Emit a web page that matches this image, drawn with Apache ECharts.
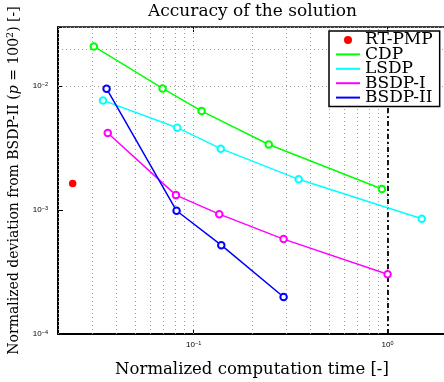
<!DOCTYPE html>
<html>
<head>
<meta charset="utf-8">
<script src="https://cdn.jsdelivr.net/npm/echarts@6/dist/echarts.min.js"></script>
<style>html,body{margin:0;padding:0;background:#fff;}#c{width:444px;height:382px;}</style>
</head>
<body>
<div id="c"></div>
<script>
// ---- data ----
const seriesNames = ['RT-PMP', 'CDP', 'LSDP', 'BSDP-I', 'BSDP-II'];
const rtpmpX = [0.0238];
const rtpmpY = [0.00164];
const cdpX = [0.0306, 0.0692, 0.110, 0.244, 0.935];
const cdpY = [0.0209, 0.00958, 0.00629, 0.00338, 0.00148];
const lsdpX = [0.0341, 0.0824, 0.138, 0.348, 1.50];
const lsdpY = [0.00767, 0.00462, 0.00313, 0.00177, 0.00085];
const bsdp1X = [0.0361, 0.0811, 0.1356, 0.291, 1.0];
const bsdp1Y = [0.00419, 0.00132, 0.000927, 0.000583, 0.000303];
const bsdp2X = [0.0356, 0.0817, 0.1389, 0.291];
const bsdp2Y = [0.00953, 0.000987, 0.000521, 0.000199];
const refTime = [1];
// grid (tick) positions
const xGrid = [0.02, 0.03, 0.04, 0.05, 0.06, 0.07, 0.08, 0.09,
               0.1, 0.2, 0.3, 0.4, 0.5, 0.6, 0.7, 0.8, 0.9, 1, 2];
const yGrid = [0.0001, 0.0002, 0.0003, 0.0004, 0.0005, 0.0006, 0.0007, 0.0008, 0.0009,
               0.001, 0.002, 0.003, 0.004, 0.005, 0.006, 0.007, 0.008, 0.009,
               0.01, 0.02, 0.03];
const xRange = [0.02, 2];
const yRange = [0.0001, 0.03];

const zip = (xs, ys) => xs.map((x, i) => [x, ys[i]]);
const serif = 'DejaVu Serif';
const sans = 'Liberation Sans';

function powLabel(v) {
  const l = Math.log10(v);
  if (Math.abs(l - Math.round(l)) > 1e-6) return '';
  const e = Math.round(l);
  return '{b|10}{e|' + (e < 0 ? '\u2212' + (-e) : e) + '}';
}
const tickRich = {
  b: {fontFamily: sans, fontSize: 8, color: '#000', lineHeight: 10},
  e: {fontFamily: sans, fontSize: 5.5, color: '#000', verticalAlign: 'top', lineHeight: 6}
};

const gridLine = {type: [1, 3], color: '#a0a0a0', width: 1};

function lineSeries(name, xs, ys, color) {
  return {
    name: name, type: 'line', data: zip(xs, ys),
    symbol: 'emptyCircle', symbolSize: 6.5,
    lineStyle: {color: color, width: 1.5},
    itemStyle: {color: color, borderColor: color, borderWidth: 1.5},
    z: 3, animation: false
  };
}

const chart = echarts.init(document.getElementById('c'), null, {renderer: 'canvas'});
chart.setOption({
  animation: false,
  backgroundColor: '#fff',
  title: {
    text: 'Accuracy of the solution', left: 148, top: 3, padding: 0,
    textStyle: {fontFamily: serif, fontSize: 17, fontWeight: 'normal', color: '#000'}
  },
  grid: {left: 58, right: -2, top: 27, bottom: 48, containLabel: false, outerBoundsMode: 'none'},
  legend: {
    orient: 'vertical', left: 329, top: 31, padding: [0.5, 7, 0.5, 6],
    itemWidth: 24, itemHeight: 8, itemGap: -2.6,
    backgroundColor: '#fff', borderColor: '#000', borderWidth: 1.5, borderRadius: 0,
    textStyle: {fontFamily: serif, fontSize: 17, color: '#000'},
    data: [
      {name: 'RT-PMP', icon: 'circle'},
      {name: 'CDP', itemStyle: {opacity: 0}},
      {name: 'LSDP', itemStyle: {opacity: 0}},
      {name: 'BSDP-I', itemStyle: {opacity: 0}},
      {name: 'BSDP-II', itemStyle: {opacity: 0}}
    ],
    z: 10
  },
  xAxis: [{
    type: 'log', logBase: 10, min: xRange[0], max: xRange[1],
    name: 'Normalized computation time [-]', nameLocation: 'middle', nameGap: 27,
    nameTextStyle: {fontFamily: serif, fontSize: 16.5, color: '#000'},
    axisLine: {lineStyle: {color: '#000', width: 2}},
    axisTick: {inside: true, length: 5, lineStyle: {color: '#000', width: 1}},
    axisLabel: {formatter: powLabel, rich: tickRich, margin: 6, showMinLabel: true, showMaxLabel: true},
    splitLine: {show: false}
  }, {
    type: 'log', logBase: 10, min: xRange[0], max: xRange[1], position: 'top',
    axisLine: {lineStyle: {color: '#000', width: 1.5}},
    axisTick: {inside: true, length: 5, lineStyle: {color: '#000', width: 1}},
    axisLabel: {show: false}, splitLine: {show: false}
  }],
  yAxis: [{
    type: 'log', logBase: 10, min: yRange[0], max: yRange[1],
    name: '{t|Normalized deviation from BSDP-II (}{i|p}{t| = 100}{s|2}{t|) [-]}',
    nameLocation: 'middle', nameRotate: 90, nameGap: 36,
    nameTextStyle: {
      rich: {
        t: {fontFamily: serif, fontSize: 14, color: '#000', lineHeight: 16},
        i: {fontFamily: serif, fontSize: 14, fontStyle: 'italic', color: '#000', lineHeight: 16},
        s: {fontFamily: serif, fontSize: 9.5, color: '#000', verticalAlign: 'top', lineHeight: 11}
      }
    },
    axisLine: {lineStyle: {color: '#000', width: 2}},
    axisTick: {inside: true, length: 5, lineStyle: {color: '#000', width: 1}},
    axisLabel: {formatter: powLabel, rich: tickRich, margin: 10, showMinLabel: true},
    splitLine: {show: false}
  }],
  series: [
    {
      name: 'RT-PMP', type: 'scatter', data: zip(rtpmpX, rtpmpY),
      symbol: 'circle', symbolSize: 7.5, itemStyle: {color: '#ff0000', opacity: 1}, z: 3,
      markLine: {
        silent: true, symbol: 'none', label: {show: false}, z: 1, animation: false,
        lineStyle: gridLine,
        data: xGrid.map(v => ({xAxis: v})).concat(yGrid.map(v => ({yAxis: v})))
      }
    },
    lineSeries('CDP', cdpX, cdpY, '#00ff00'),
    lineSeries('LSDP', lsdpX, lsdpY, '#00ffff'),
    lineSeries('BSDP-I', bsdp1X, bsdp1Y, '#ff00ff'),
    Object.assign(lineSeries('BSDP-II', bsdp2X, bsdp2Y, '#0000ff'), {
      markLine: {
        silent: true, symbol: 'none', label: {show: false}, z: 2, animation: false,
        lineStyle: {type: [5, 3, 2, 3], color: '#000', width: 1.8},
        data: refTime.map(v => ({xAxis: v}))
      }
    })
  ]
});
</script>
</body>
</html>
